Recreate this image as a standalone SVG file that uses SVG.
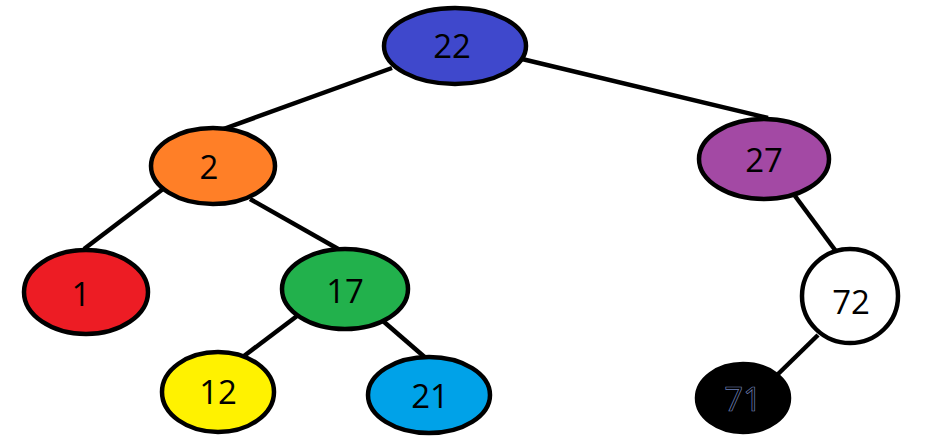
<svg xmlns="http://www.w3.org/2000/svg" width="940" height="440" viewBox="0 0 940 440">
<style>
.n ellipse{stroke:#000;stroke-width:4.5}
.n text{font-family:"Open Sans","Noto Sans",sans-serif;font-size:33px;fill:#000;text-anchor:middle;dominant-baseline:central}
#n71 text{stroke:#7080b8;stroke-width:0.7}
#edges line{stroke:#000;stroke-width:4.5}
</style>
<rect width="940" height="440" fill="#fff"/>
<g id="edges">
<line x1="392" y1="68" x2="218" y2="131"/>
<line x1="522" y1="59" x2="768" y2="118"/>
<line x1="163" y1="189" x2="84" y2="249"/>
<line x1="250" y1="199" x2="340" y2="250"/>
<line x1="795" y1="196" x2="838" y2="254"/>
<line x1="297" y1="316" x2="244" y2="356"/>
<line x1="383" y1="321" x2="428" y2="360"/>
<line x1="818" y1="335" x2="775" y2="377"/>
</g>
<g id="n22" class="n"><ellipse cx="455" cy="46" rx="71" ry="38" fill="#3F48CC"/><text x="452" y="45">22</text></g>
<g id="n2" class="n"><ellipse cx="213" cy="166" rx="62" ry="38" fill="#FF7F27"/><text x="209" y="166">2</text></g>
<g id="n27" class="n"><ellipse cx="764" cy="159" rx="65" ry="40" fill="#A349A4"/><text x="764" y="159">27</text></g>
<g id="n1" class="n"><ellipse cx="86" cy="292" rx="62" ry="42" fill="#ED1C24"/><text x="81" y="293">1</text></g>
<g id="n17" class="n"><ellipse cx="345" cy="289" rx="63" ry="40" fill="#22B14C"/><text x="345" y="290">17</text></g>
<g id="n72" class="n"><ellipse cx="850" cy="296" rx="48" ry="47" fill="#FFFFFF"/><text x="851" y="301">72</text></g>
<g id="n12" class="n"><ellipse cx="218" cy="392" rx="56" ry="40" fill="#FFF200"/><text x="218" y="391">12</text></g>
<g id="n21" class="n"><ellipse cx="429" cy="395" rx="61" ry="38" fill="#00A2E8"/><text x="430" y="395">21</text></g>
<g id="n71" class="n"><ellipse cx="743" cy="398" rx="46" ry="34" fill="#000000"/><text x="743" y="398">71</text></g>
</svg>
